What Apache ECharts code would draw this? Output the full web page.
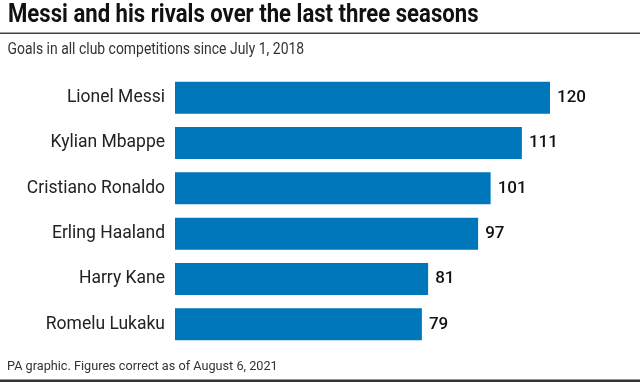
<!DOCTYPE html>
<html><head><meta charset="utf-8">
<script src="https://cdn.jsdelivr.net/npm/echarts@6/dist/echarts.min.js"></script>
<style>html,body{margin:0;padding:0;background:#fff}#c{width:640px;height:382px}</style>
</head><body><div id="c"></div>
<script>
const categories = ["Lionel Messi","Kylian Mbappe","Cristiano Ronaldo","Erling Haaland","Harry Kane","Romelu Lukaku"];
const goals = [120,111,101,97,81,79];
const titleText = "Messi and his rivals over the last three seasons";
const subtitleText = "Goals in all club competitions since July 1, 2018";
const footerText = "PA graphic. Figures correct as of August 6, 2021";

const chart = echarts.init(document.getElementById('c'), null, {renderer:'canvas'});
chart.setOption({
  animation:false,
  backgroundColor:'#fff',
  graphic:[
    {type:'text',x:8,y:3,scaleX:0.885,style:{text:titleText,font:'bold 25px Roboto',fill:'#111',verticalAlign:'top',align:'left'}},
    {type:'text',x:7.5,y:41,scaleX:0.845,style:{text:subtitleText,font:'16.5px Roboto',fill:'#333',verticalAlign:'top',align:'left'}},
    {type:'text',x:7,y:360.5,style:{text:footerText,font:'12.7px Roboto',fill:'#333',verticalAlign:'top',align:'left'}},
    {type:'rect',shape:{x:0,y:32.5,width:640,height:1.5},style:{fill:'#444'}},
    {type:'rect',shape:{x:0,y:379.5,width:640,height:3},style:{fill:'#333'}}
  ],
  grid:{left:175,right:90,top:75,bottom:35,containLabel:false},
  xAxis:{type:'value',min:0,max:120,show:false},
  yAxis:{type:'category',data:categories,inverse:true,
    axisLine:{show:false},axisTick:{show:false},
    axisLabel:{margin:10,fontFamily:'Roboto',fontSize:17.5,color:'#222'}},
  series:[{type:'bar',data:goals,barWidth:32,
    itemStyle:{color:'#0077bb'},
    label:{show:true,position:'right',distance:7,fontFamily:'Roboto',fontSize:17,fontWeight:500,color:'#111'}}]
});
</script></body></html>
